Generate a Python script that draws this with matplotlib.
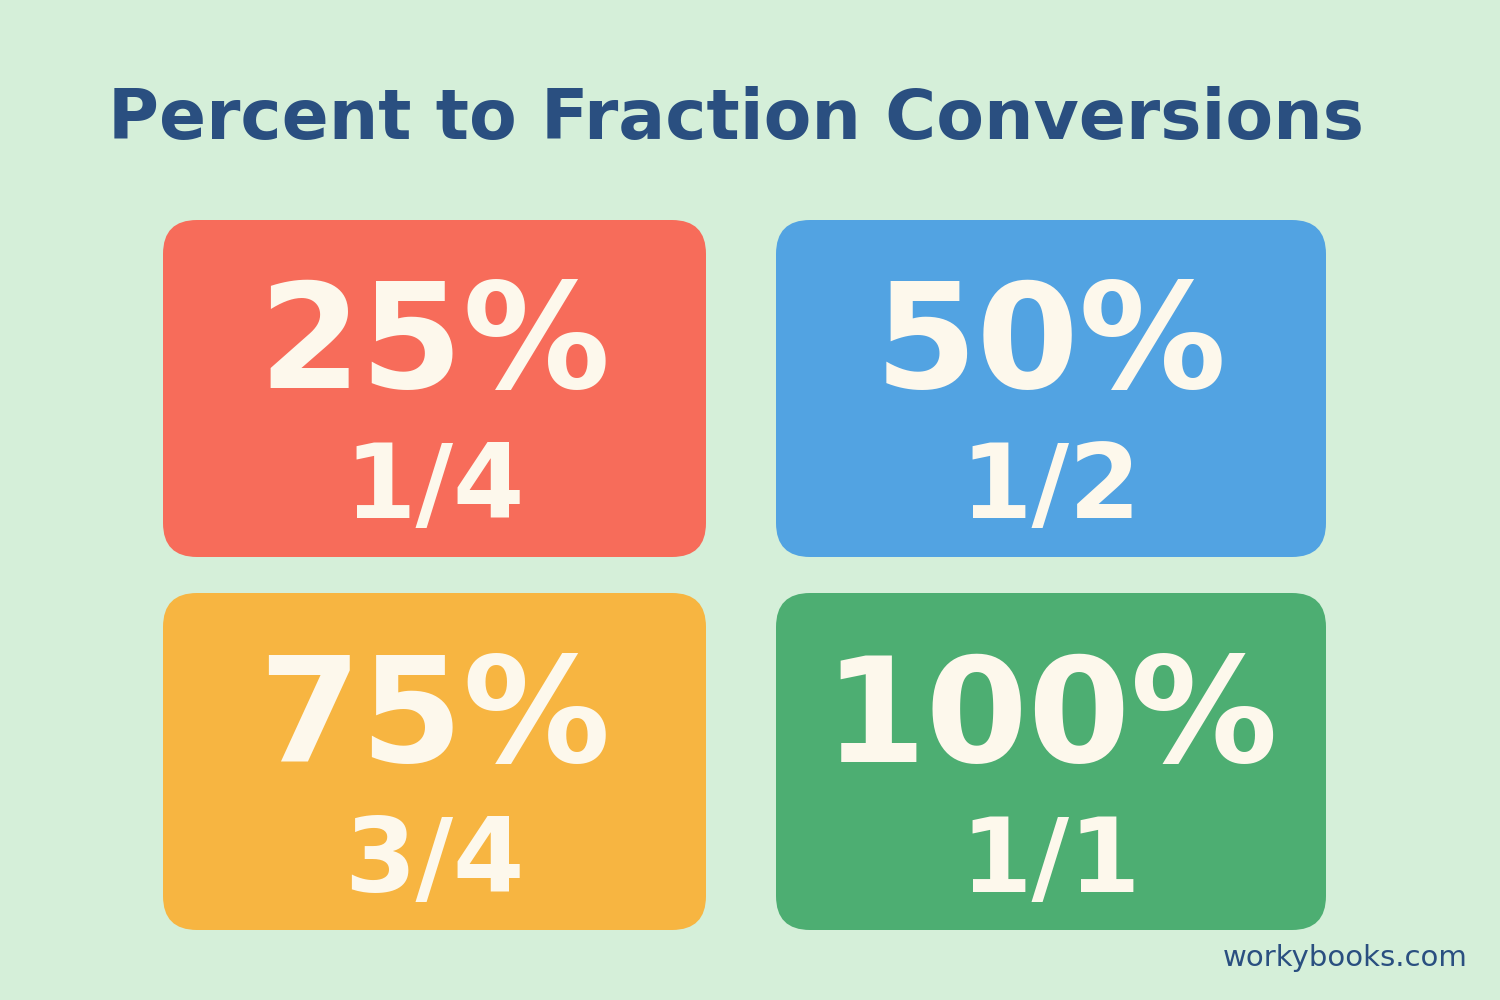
import matplotlib
matplotlib.use("Agg")
import matplotlib.pyplot as plt
from matplotlib.patches import FancyBboxPatch

percents = ["25%", "50%", "75%", "100%"]
fractions = ["1/4", "1/2", "3/4", "1/1"]
colors = ["#F76C5A", "#52A3E2", "#F7B541", "#4DAE72"]

fig = plt.figure(figsize=(15, 10), dpi=100)
fig.patch.set_facecolor("#D5EFD9")
ax = fig.add_axes([0, 0, 1, 1])
ax.set_xlim(0, 1500)
ax.set_ylim(1000, 0)
ax.axis("off")

ax.text(108, 120, "Percent to Fraction Conversions", fontsize=50, fontweight="bold",
        color="#2A4F80", va="center", ha="left", family="DejaVu Sans")

xs = [163, 776]
ys = [220, 593]
h = 337
for i, (p, f, c) in enumerate(zip(percents, fractions, colors)):
    x0 = xs[i % 2]
    ww = 543 if i % 2 == 0 else 550
    y0 = ys[i // 2]
    box = FancyBboxPatch((x0 + 34, y0 + 34), ww - 68, h - 68,
                         boxstyle="round,pad=34", fc=c, ec="none")
    ax.add_patch(box)
    cx = x0 + ww / 2
    ax.text(cx, y0 + 128, p, fontsize=106, fontweight="bold", color="#FDF8EC",
            ha="center", va="center")
    ax.text(cx, y0 + 270, f, fontsize=74, fontweight="bold", color="#FDF8EC",
            ha="center", va="center")

ax.text(1468, 958, "workybooks.com", fontsize=21, color="#2A4F80",
        ha="right", va="center")

fig.savefig("out.png", dpi=100, facecolor=fig.get_facecolor())
